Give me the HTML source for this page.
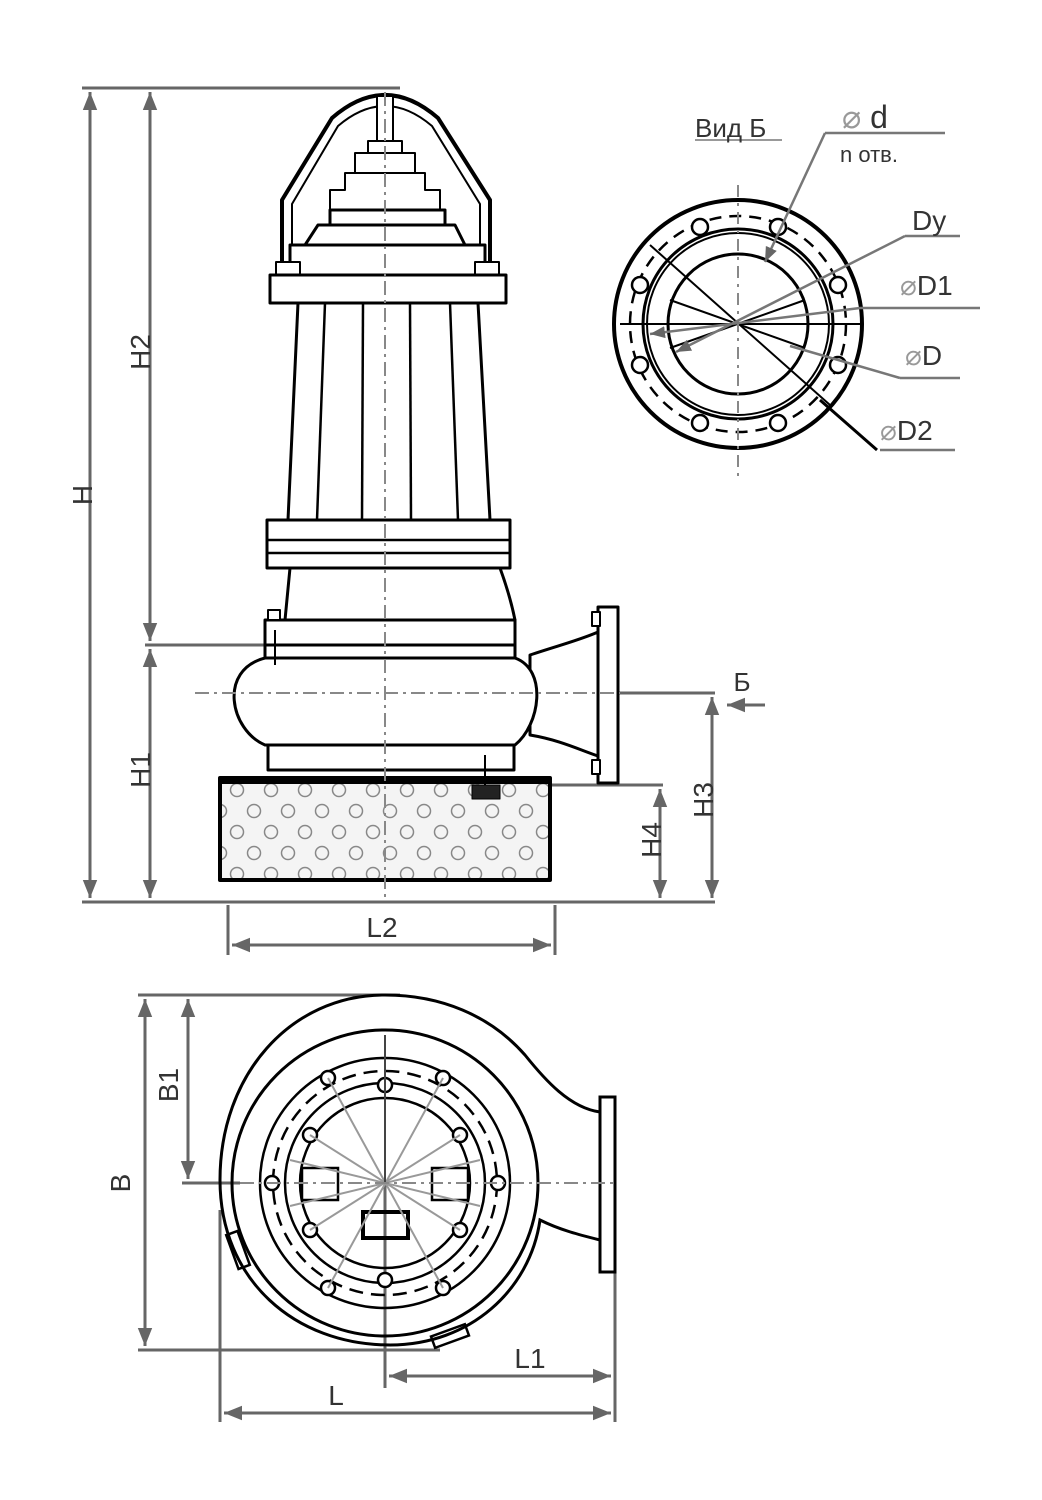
<!DOCTYPE html>
<html><head><meta charset="utf-8"><style>
html,body{margin:0;padding:0;background:#fff}
svg{display:block}
text{font-family:"Liberation Sans",sans-serif;fill:#333}
</style></head><body>
<svg width="1042" height="1500" viewBox="0 0 1042 1500" xmlns="http://www.w3.org/2000/svg">
<defs>
<marker id="a" viewBox="0 0 10 10" refX="10" refY="5" markerWidth="6" markerHeight="6" orient="auto-start-reverse"><path d="M0,1 L10,5 L0,9 Z" fill="#666"/></marker>
<pattern id="holes" x="220" y="780" width="68" height="42" patternUnits="userSpaceOnUse">
<rect width="68" height="42" fill="#f4f4f4"/>
<circle cx="17" cy="10" r="6.5" fill="none" stroke="#888" stroke-width="1.5"/>
<circle cx="51" cy="10" r="6.5" fill="none" stroke="#888" stroke-width="1.5"/>
<circle cx="34" cy="31" r="6.5" fill="none" stroke="#888" stroke-width="1.5"/>
<circle cx="0" cy="31" r="6.5" fill="none" stroke="#888" stroke-width="1.5"/>
<circle cx="68" cy="31" r="6.5" fill="none" stroke="#888" stroke-width="1.5"/>
</pattern>
</defs>

<g stroke="#666" stroke-width="3" fill="none">
<line x1="82" y1="88" x2="400" y2="88"/>
<line x1="82" y1="902" x2="715" y2="902"/>
<line x1="145" y1="645" x2="270" y2="645"/>
<line x1="90" y1="92" x2="90" y2="898" marker-start="url(#a)" marker-end="url(#a)"/>
<line x1="150" y1="92" x2="150" y2="641" marker-start="url(#a)" marker-end="url(#a)"/>
<line x1="150" y1="649" x2="150" y2="898" marker-start="url(#a)" marker-end="url(#a)"/>
<line x1="618" y1="693" x2="715" y2="693"/>
<line x1="550" y1="785" x2="663" y2="785"/>
<line x1="712" y1="697" x2="712" y2="898" marker-start="url(#a)" marker-end="url(#a)"/>
<line x1="660" y1="789" x2="660" y2="898" marker-start="url(#a)" marker-end="url(#a)"/>
<line x1="765" y1="705" x2="727" y2="705" marker-end="url(#a)"/>
<line x1="228" y1="905" x2="228" y2="955"/>
<line x1="555" y1="905" x2="555" y2="955"/>
<line x1="232" y1="945" x2="551" y2="945" marker-start="url(#a)" marker-end="url(#a)"/>
</g>
<g font-size="28">
<text transform="translate(82,495) rotate(-90)" text-anchor="middle" dy="10">H</text>
<text transform="translate(140,352) rotate(-90)" text-anchor="middle" dy="10">H2</text>
<text transform="translate(140,770) rotate(-90)" text-anchor="middle" dy="10">H1</text>
<text transform="translate(703,800) rotate(-90)" text-anchor="middle" dy="10">H3</text>
<text transform="translate(651,840) rotate(-90)" text-anchor="middle" dy="10">H4</text>
<text x="382" y="937" text-anchor="middle">L2</text>
<text x="742" y="691" text-anchor="middle" font-size="26">Б</text>
</g>

<g stroke="#000" stroke-width="3" fill="#fff" stroke-linejoin="round">
<path d="M282,262 L282,200 L332,118 Q385,72 438,118 L490,200 L490,262" fill="none" stroke-width="4"/>
<path d="M292,262 L292,204 L338,126 Q385,86 432,126 L480,204 L480,262" fill="none" stroke-width="2"/>
<rect x="377" y="96" width="16" height="45" stroke-width="2"/>
<rect x="368" y="141" width="34" height="12" stroke-width="2"/>
<rect x="355" y="153" width="60" height="20" stroke-width="2"/>
<path d="M345,173 H425 V190 H440 V210 H330 V190 H345 Z" stroke-width="2"/>
<rect x="330" y="210" width="115" height="15"/>
<path d="M318,225 H455 L465,245 H305 Z"/>
<rect x="290" y="245" width="195" height="30"/>
<rect x="276" y="262" width="24" height="13" stroke-width="2"/>
<rect x="475" y="262" width="24" height="13" stroke-width="2"/>
<rect x="270" y="275" width="236" height="28"/>
<path d="M298,303 H478 L490,520 H288 Z"/>
<g fill="none" stroke-width="2.5">
<line x1="325" y1="303" x2="317" y2="520"/>
<line x1="363" y1="303" x2="362" y2="520"/>
<line x1="410" y1="303" x2="411" y2="520"/>
<line x1="450" y1="303" x2="458" y2="520"/>
</g>
<rect x="267" y="520" width="243" height="48"/>
<line x1="267" y1="540" x2="510" y2="540" stroke-width="2.5"/>
<line x1="267" y1="553" x2="510" y2="553" stroke-width="2.5"/>
<path d="M290,568 H500 C508,590 512,605 515,620 H285 Z"/>
<rect x="265" y="620" width="250" height="25"/>
<rect x="268" y="610" width="12" height="10" stroke-width="2"/>
<path d="M530,655 C560,645 580,640 598,632 L598,756 C580,750 560,740 530,735 Z"/>
<rect x="598" y="607" width="20" height="176"/>
<rect x="592" y="612" width="8" height="14" stroke-width="2"/>
<rect x="592" y="760" width="8" height="14" stroke-width="2"/>
<path d="M265,658 H515 C548,670 540,725 515,745 H265 C230,730 218,670 265,658 Z"/>
<rect x="265" y="645" width="250" height="13"/>
<rect x="268" y="745" width="246" height="25"/>
<line x1="275" y1="630" x2="275" y2="665" stroke-width="2"/>
<rect x="220" y="778" width="330" height="102" fill="url(#holes)" stroke-width="4"/>
<line x1="220" y1="781" x2="550" y2="781" stroke-width="6"/>
<line x1="485" y1="755" x2="485" y2="785" stroke-width="2"/>
<rect x="472" y="785" width="28" height="14" fill="#222" stroke-width="1"/>
</g>
<g stroke="#888" stroke-width="2" stroke-dasharray="14,5,3,5" fill="none">
<line x1="385" y1="92" x2="385" y2="900"/>
<line x1="195" y1="693" x2="620" y2="693"/>
</g>

<g fill="none" stroke="#000">
<circle cx="738" cy="324" r="124" stroke-width="4"/>
<circle cx="738" cy="324" r="108" stroke-width="2.5" stroke-dasharray="12,8"/>
<circle cx="738" cy="324" r="95" stroke-width="3"/>
<circle cx="738" cy="324" r="91" stroke-width="2"/>
<circle cx="738" cy="324" r="70" stroke-width="3"/>
<g stroke-width="2.5" fill="#fff">
<circle cx="700" cy="227" r="8"/><circle cx="778" cy="227" r="8"/>
<circle cx="838" cy="285" r="8"/><circle cx="838" cy="365" r="8"/>
<circle cx="778" cy="423" r="8"/><circle cx="700" cy="423" r="8"/>
<circle cx="640" cy="365" r="8"/><circle cx="640" cy="285" r="8"/>
</g>
<line x1="620" y1="324" x2="860" y2="324" stroke-width="2"/>
<line x1="650" y1="245" x2="830" y2="405" stroke-width="2"/>
<line x1="670" y1="300" x2="805" y2="348" stroke-width="2"/>
<line x1="670" y1="348" x2="805" y2="300" stroke-width="2"/>
</g>
<line x1="738" y1="185" x2="738" y2="480" stroke="#888" stroke-width="2" stroke-dasharray="12,6,3,6"/>
<g stroke="#777" stroke-width="2.5" fill="none">
<line x1="825" y1="133" x2="945" y2="133"/>
<line x1="825" y1="133" x2="765" y2="262" marker-end="url(#a)"/>
<line x1="905" y1="236" x2="960" y2="236"/>
<line x1="905" y1="236" x2="676" y2="352" marker-end="url(#a)"/>
<line x1="860" y1="308" x2="980" y2="308"/>
<line x1="860" y1="308" x2="650" y2="334" marker-end="url(#a)"/>
<line x1="900" y1="378" x2="960" y2="378"/>
<line x1="900" y1="378" x2="790" y2="346"/>
<line x1="880" y1="450" x2="955" y2="450"/>
<line x1="695" y1="140" x2="782" y2="140" stroke="#999" stroke-width="2"/>
</g>
<line x1="820" y1="400" x2="877" y2="450" stroke="#000" stroke-width="3"/>
<text x="695" y="137" font-size="26">Вид Б</text>
<text x="842" y="128" font-size="32"><tspan fill="#999">⌀</tspan> d</text>
<text x="840" y="162" font-size="22">n отв.</text>
<text x="912" y="230" font-size="28">Dy</text>
<text x="900" y="295" font-size="28"><tspan fill="#999">⌀</tspan>D1</text>
<text x="905" y="365" font-size="28"><tspan fill="#999">⌀</tspan>D</text>
<text x="880" y="440" font-size="28"><tspan fill="#999">⌀</tspan>D2</text>

<g stroke="#666" stroke-width="3" fill="none">
<line x1="138" y1="995" x2="400" y2="995"/>
<line x1="138" y1="1350" x2="440" y2="1350"/>
<line x1="182" y1="1183" x2="240" y2="1183"/>
<line x1="145" y1="999" x2="145" y2="1346" marker-start="url(#a)" marker-end="url(#a)"/>
<line x1="188" y1="999" x2="188" y2="1179" marker-start="url(#a)" marker-end="url(#a)"/>
<line x1="220" y1="1210" x2="220" y2="1422"/>
<line x1="615" y1="1270" x2="615" y2="1422"/>
<line x1="385" y1="1183" x2="385" y2="1388"/>
<line x1="389" y1="1376" x2="611" y2="1376" marker-start="url(#a)" marker-end="url(#a)"/>
<line x1="224" y1="1413" x2="611" y2="1413" marker-start="url(#a)" marker-end="url(#a)"/>
</g>
<g font-size="28">
<text transform="translate(120,1183) rotate(-90)" text-anchor="middle" dy="10">B</text>
<text transform="translate(168,1085) rotate(-90)" text-anchor="middle" dy="10">B1</text>
<text x="530" y="1368" text-anchor="middle">L1</text>
<text x="336" y="1405" text-anchor="middle">L</text>
</g>
<g stroke="#000" stroke-width="3" fill="none">
<path d="M600,1112 C570,1108 545,1080 525,1055 C490,1015 440,995 385,995 C290,995 220,1075 220,1180 C220,1280 295,1345 390,1345 C470,1345 530,1290 540,1220 C560,1230 580,1235 600,1240"/>
<circle cx="385" cy="1183" r="153"/>
<circle cx="385" cy="1183" r="125" stroke-width="2.5"/>
<circle cx="385" cy="1183" r="112" stroke-width="2.5" stroke-dasharray="14,8"/>
<circle cx="385" cy="1183" r="100" stroke-width="2.5"/>
<circle cx="385" cy="1183" r="85" stroke-width="2.5"/>
<rect x="600" y="1097" width="15" height="175" fill="#fff" stroke-width="3"/>
<rect x="363" y="1212" width="45" height="26" stroke-width="4"/>
<rect x="302" y="1168" width="36" height="32" stroke-width="2.5"/>
<rect x="432" y="1168" width="36" height="32" stroke-width="2.5"/>
<rect x="232" y="1232" width="12" height="36" transform="rotate(-20 238 1250)" stroke-width="2.5"/>
<rect x="432" y="1330" width="36" height="12" transform="rotate(-20 450 1336)" stroke-width="2.5"/>
<g fill="#fff" stroke-width="2.5">
<circle cx="385" cy="1085" r="7"/><circle cx="385" cy="1280" r="7"/>
<circle cx="310" cy="1135" r="7"/><circle cx="460" cy="1135" r="7"/>
<circle cx="310" cy="1230" r="7"/><circle cx="460" cy="1230" r="7"/>
<circle cx="272" cy="1183" r="7"/><circle cx="498" cy="1183" r="7"/>
<circle cx="328" cy="1078" r="7"/><circle cx="443" cy="1078" r="7"/>
<circle cx="328" cy="1288" r="7"/><circle cx="443" cy="1288" r="7"/>
</g>
</g>
<g stroke="#999" stroke-width="2">
<line x1="328" y1="1078" x2="443" y2="1288"/><line x1="443" y1="1078" x2="328" y2="1288"/>
<line x1="310" y1="1135" x2="460" y2="1230"/><line x1="460" y1="1135" x2="310" y2="1230"/>
<line x1="290" y1="1160" x2="480" y2="1206"/><line x1="480" y1="1160" x2="290" y2="1206"/>
</g>
<line x1="385" y1="1035" x2="385" y2="1183" stroke="#444" stroke-width="2"/>
<line x1="240" y1="1183" x2="615" y2="1183" stroke="#888" stroke-width="2" stroke-dasharray="14,5,3,5"/>
</svg>
</body></html>
